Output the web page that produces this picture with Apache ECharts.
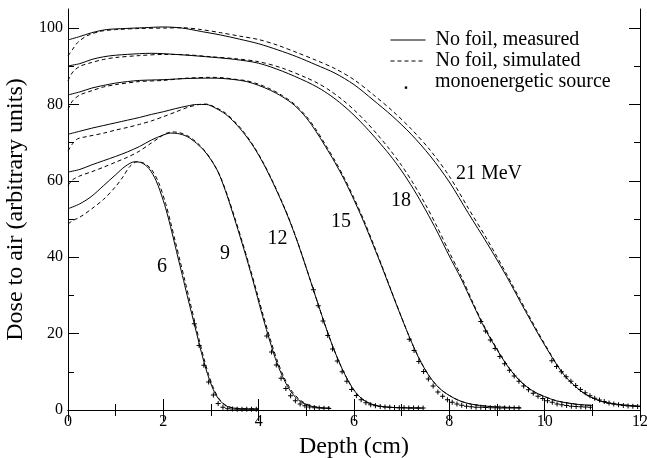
<!DOCTYPE html>
<html>
<head>
<meta charset="utf-8">
<script src="https://cdn.jsdelivr.net/npm/echarts@6/dist/echarts.min.js"></script>
<style>
html, body { margin: 0; padding: 0; background: #ffffff; }
#chart { width: 647px; height: 458px; }
</style>
</head>
<body>
<div id="chart"></div>
<script>
// Depth-dose curves in air, electron beams of 6 to 21 MeV
// Each curve: [depth (cm), dose (arbitrary units)]

const measured6 = [[0,52.7],[0.25,54.0],[0.5,56.0],[0.75,58.8],[1.0,61.6],[1.2,63.8],[1.4,65.0],[1.55,64.7],[1.7,63.2],[1.85,60.0],[2.0,54.8],[2.1,50.5],[2.2,45.5],[2.3,40.3],[2.4,35.2],[2.5,30.0],[2.6,25.0],[2.7,20.0],[2.8,15.0],[2.9,10.5],[3.0,6.8],[3.1,4.0],[3.2,2.3],[3.3,1.2],[3.4,0.7],[3.55,0.4],[3.75,0.3],[4.0,0.3]];
const simulated6 = [[0,48.7],[0.1,49.6],[0.25,50.5],[0.5,52.7],[0.75,55.2],[1.0,58.5],[1.15,61.0],[1.3,63.8],[1.45,65.0],[1.6,64.6],[1.75,63.0],[1.9,59.6],[2.05,54.0],[2.15,49.3],[2.25,44.2],[2.35,39.1],[2.45,34.0],[2.55,28.8],[2.65,23.6],[2.75,18.5],[2.85,13.6],[2.95,9.3],[3.05,5.8],[3.15,3.3],[3.25,1.8],[3.35,1.0],[3.45,0.6],[3.6,0.4],[3.8,0.3],[4.0,0.3]];
const monoX6 = [2.65,2.75,2.85,2.95,3.05,3.15,3.25,3.35,3.45,3.55,3.65,3.75,3.85,3.95];
const monoY6 = [22.6,16.9,11.7,7.3,3.9,1.7,0.7,0.35,0.25,0.2,0.2,0.2,0.2,0.2];

const measured9 = [[0,62.3],[0.25,63.0],[0.5,64.2],[0.75,65.3],[1.0,66.4],[1.25,67.6],[1.5,69.0],[1.75,70.7],[2.0,72.0],[2.15,72.5],[2.3,72.4],[2.5,71.6],[2.7,69.8],[2.85,68.0],[3.0,65.5],[3.15,62.3],[3.3,57.5],[3.45,51.8],[3.6,45.8],[3.75,39.6],[3.9,33.0],[4.05,26.0],[4.2,19.5],[4.35,13.5],[4.5,8.8],[4.65,5.3],[4.8,3.0],[4.95,1.7],[5.1,1.0],[5.3,0.6],[5.5,0.5]];
const simulated9 = [[0,58.8],[0.1,60.3],[0.25,61.3],[0.5,62.4],[0.75,63.6],[1.0,64.9],[1.25,66.2],[1.5,67.8],[1.7,69.5],[1.9,71.2],[2.05,72.4],[2.2,72.8],[2.35,72.6],[2.55,71.5],[2.75,69.5],[2.9,67.4],[3.05,64.6],[3.2,61.0],[3.35,56.0],[3.5,50.3],[3.65,44.3],[3.8,38.0],[3.95,31.4],[4.1,24.6],[4.25,18.3],[4.4,12.6],[4.55,8.1],[4.7,4.9],[4.85,2.8],[5.0,1.6],[5.15,1.0],[5.3,0.6],[5.5,0.5]];
const monoX9 = [4.17,4.27,4.37,4.47,4.57,4.67,4.77,4.87,4.97,5.07,5.17,5.27,5.37,5.47];
const monoY9 = [19.4,15.2,11.8,8.3,5.6,3.7,2.4,1.6,1.1,0.8,0.6,0.5,0.45,0.4];

const measured12 = [[0,72.2],[0.25,73.0],[0.5,73.8],[0.75,74.5],[1.0,75.2],[1.25,75.9],[1.5,76.6],[1.75,77.4],[2.0,78.1],[2.25,78.9],[2.5,79.6],[2.7,80.0],[2.9,80.0],[3.1,79.0],[3.3,77.5],[3.5,75.2],[3.7,72.3],[3.9,68.8],[4.1,64.5],[4.3,59.5],[4.5,54.0],[4.65,49.5],[4.8,44.5],[4.95,39.0],[5.1,33.3],[5.25,27.6],[5.4,22.0],[5.55,16.8],[5.7,12.2],[5.85,8.3],[6.0,5.2],[6.15,3.1],[6.3,1.9],[6.5,1.1],[6.75,0.7],[7.0,0.6],[7.45,0.5]];
const simulated12 = [[0,67.8],[0.1,69.8],[0.2,71.0],[0.4,71.6],[0.75,72.5],[1.0,73.3],[1.25,74.0],[1.5,74.8],[1.75,75.7],[2.0,76.8],[2.25,78.0],[2.5,79.2],[2.75,80.0],[2.9,80.1],[3.1,79.2],[3.3,77.8],[3.5,75.5],[3.7,72.6],[3.9,69.0],[4.1,64.7],[4.3,59.7],[4.5,54.2],[4.65,49.7],[4.8,44.6],[4.95,39.1],[5.1,33.4],[5.25,27.6],[5.4,22.0],[5.55,16.8],[5.7,12.2],[5.85,8.3],[6.0,5.2],[6.15,3.1],[6.3,1.9],[6.5,1.1],[6.75,0.7],[7.0,0.6],[7.45,0.5]];
const monoX12 = [5.15,5.25,5.35,5.45,5.55,5.65,5.75,5.85,5.95,6.05,6.15,6.25,6.35,6.45,6.55,6.65,6.75,6.85,6.95,7.05,7.15,7.25,7.35,7.45];
const monoY12 = [31.5,27.3,23.3,19.5,16.0,12.8,10.0,7.5,5.4,3.8,2.7,1.9,1.4,1.1,0.9,0.8,0.7,0.65,0.6,0.6,0.55,0.55,0.5,0.5];

const measured15 = [[0,82.5],[0.25,83.3],[0.5,84.3],[0.75,85.0],[1.0,85.6],[1.25,86.0],[1.5,86.3],[2.0,86.5],[2.5,86.8],[3.0,86.9],[3.25,86.8],[3.5,86.5],[3.75,86.0],[4.0,85.0],[4.25,83.7],[4.5,82.0],[4.75,79.8],[5.0,76.5],[5.2,73.0],[5.4,69.0],[5.6,64.8],[5.8,60.2],[6.0,55.0],[6.2,49.4],[6.4,43.3],[6.6,37.0],[6.8,30.5],[7.0,24.1],[7.2,18.0],[7.4,12.6],[7.6,8.5],[7.8,5.6],[8.0,3.8],[8.2,2.5],[8.4,1.7],[8.7,1.1],[9.0,0.8],[9.5,0.6]];
const simulated15 = [[0,78.7],[0.1,81.0],[0.25,82.5],[0.5,83.6],[0.75,84.6],[1.0,85.2],[1.5,86.0],[2.0,86.3],[2.5,86.9],[3.0,87.1],[3.25,87.0],[3.5,86.6],[3.75,86.2],[4.0,85.3],[4.25,84.0],[4.5,82.3],[4.75,80.1],[5.0,76.9],[5.2,73.5],[5.4,69.5],[5.6,65.3],[5.8,60.7],[6.0,55.5],[6.2,49.9],[6.4,43.7],[6.6,37.3],[6.8,30.7],[7.0,24.2],[7.2,18.0],[7.4,12.7],[7.6,8.5],[7.8,5.6],[8.0,3.8],[8.2,2.5],[8.4,1.7],[8.7,1.1],[9.0,0.8],[9.5,0.6]];
const monoX15 = [7.16,7.26,7.36,7.46,7.56,7.66,7.76,7.86,7.96,8.06,8.16,8.26,8.36,8.46,8.56,8.66,8.76,8.86,8.96,9.06,9.16,9.26,9.36,9.46];
const monoY15 = [18.5,15.6,12.7,10.1,8.1,6.3,4.7,3.6,2.7,2.0,1.55,1.25,1.0,0.85,0.75,0.7,0.65,0.6,0.6,0.55,0.55,0.5,0.5,0.5];

const measured18 = [[0,90.1],[0.25,90.7],[0.5,91.8],[0.75,92.5],[1.0,92.9],[1.5,93.3],[1.75,93.4],[2.0,93.3],[2.5,92.9],[3.0,92.4],[3.5,91.8],[4.0,90.8],[4.5,88.7],[5.0,86.0],[5.25,84.4],[5.5,82.4],[5.75,80.0],[6.0,77.2],[6.25,74.0],[6.5,70.5],[6.75,66.8],[7.0,62.6],[7.25,57.8],[7.5,52.4],[7.75,46.6],[8.0,40.3],[8.25,34.3],[8.5,27.6],[8.75,21.2],[9.0,15.8],[9.25,11.0],[9.5,7.4],[9.75,5.0],[10.0,3.5],[10.25,2.4],[10.5,1.8],[10.75,1.4],[11.0,1.2]];
const simulated18 = [[0,86.2],[0.1,88.5],[0.25,90.0],[0.5,91.0],[0.75,91.8],[1.0,92.3],[1.5,92.8],[2.0,93.1],[2.5,93.0],[3.0,92.5],[3.5,92.0],[4.0,91.2],[4.5,89.5],[5.0,87.0],[5.25,85.5],[5.5,83.6],[5.75,81.3],[6.0,78.6],[6.25,75.5],[6.5,72.0],[6.75,68.2],[7.0,64.0],[7.25,59.2],[7.5,53.8],[7.75,47.8],[8.0,41.3],[8.25,35.0],[8.5,28.0],[8.75,21.5],[9.0,16.0],[9.25,11.1],[9.5,7.4],[9.75,5.0],[10.0,3.5],[10.25,2.4],[10.5,1.8],[10.75,1.4],[11.0,1.2]];
const monoX18 = [8.66,8.76,8.86,8.96,9.06,9.16,9.26,9.36,9.46,9.56,9.66,9.76,9.86,9.96,10.06,10.16,10.26,10.36,10.46,10.56,10.66,10.76,10.86,10.96];
const monoY18 = [23.2,20.7,18.3,16.1,14.0,12.1,10.4,8.9,7.5,6.3,5.3,4.4,3.6,3.0,2.4,2.0,1.6,1.35,1.15,1.0,0.9,0.85,0.8,0.75];

const measured21 = [[0,96.9],[0.25,97.8],[0.5,98.8],[0.8,99.6],[1.2,99.9],[1.6,100.1],[2.0,100.3],[2.4,100.0],[2.8,99.1],[3.2,98.2],[3.6,97.1],[4.0,95.9],[4.4,94.3],[4.8,92.5],[5.2,90.4],[5.6,88.2],[6.0,85.2],[6.4,81.2],[6.8,77.0],[7.2,72.2],[7.6,66.5],[8.0,59.7],[8.4,51.5],[8.8,43.5],[9.2,35.0],[9.6,25.8],[10.0,17.0],[10.4,9.3],[10.8,4.6],[11.2,2.2],[11.6,1.4],[12.0,1.0]];
const simulated21 = [[0,92.7],[0.1,94.5],[0.2,96.2],[0.4,98.0],[0.7,99.2],[1.0,99.6],[1.5,99.9],[2.0,100.0],[2.4,100.1],[2.8,99.6],[3.2,98.8],[3.6,97.9],[4.0,97.0],[4.4,95.5],[4.8,93.6],[5.2,91.6],[5.6,89.4],[6.0,86.5],[6.4,82.6],[6.8,78.4],[7.2,73.6],[7.6,68.0],[8.0,61.2],[8.4,52.8],[8.8,44.5],[9.2,35.6],[9.6,26.3],[10.0,17.3],[10.4,9.4],[10.8,4.6],[11.2,2.2],[11.6,1.4],[12.0,1.0]];
const monoX21 = [10.15,10.25,10.35,10.45,10.55,10.65,10.75,10.85,10.95,11.05,11.15,11.25,11.35,11.45,11.55,11.65,11.75,11.85,11.95];
const monoY21 = [12.9,11.4,10.0,8.7,7.5,6.4,5.4,4.5,3.7,3.1,2.6,2.2,1.85,1.6,1.35,1.2,1.05,0.95,0.9];

// Axis tick values
const xMajorTicks = [0, 2, 4, 6, 8, 10, 12];
const yMajorTicks = [0, 20, 40, 60, 80, 100];
const yMinorTicks = [10, 30, 50, 70, 90];

// Curve annotations
const curveLabels = ['6', '9', '12', '15', '18', '21 MeV'];

const NAME_MEASURED = 'No foil, measured';
const NAME_SIMULATED = 'No foil, simulated';
const NAME_MONO = 'monoenergetic source';

const FONT = '"Liberation Serif", "Times New Roman", serif';
const INK = '#000000';

const beams = [
  { measured: measured6,  simulated: simulated6,  monoX: monoX6,  monoY: monoY6 },
  { measured: measured9,  simulated: simulated9,  monoX: monoX9,  monoY: monoY9 },
  { measured: measured12, simulated: simulated12, monoX: monoX12, monoY: monoY12 },
  { measured: measured15, simulated: simulated15, monoX: monoX15, monoY: monoY15 },
  { measured: measured18, simulated: simulated18, monoX: monoX18, monoY: monoY18 },
  { measured: measured21, simulated: simulated21, monoX: monoX21, monoY: monoY21 }
];

// small "+" marker
const crossSymbol = 'path://M0,2L5,2L5,3L0,3Z M2,0L3,0L3,5L2,5Z';
// small dot used in the legend, padded to the legend icon box (sits low, near the text baseline)
const dotIcon = 'path://M0,0M35,14M14.8,11.4L17.2,11.4L17.2,13.8L14.8,13.8Z';

const series = [];
beams.forEach(function (b) {
  series.push({
    name: NAME_MEASURED, type: 'line', data: b.measured,
    symbol: 'none', smooth: 0.3, z: 3,
    lineStyle: { color: INK, width: 1 }, itemStyle: { color: INK }
  });
  series.push({
    name: NAME_SIMULATED, type: 'line', data: b.simulated,
    symbol: 'none', smooth: 0.3, z: 3,
    lineStyle: { color: INK, width: 1, type: [4, 3] }, itemStyle: { color: INK }
  });
  series.push({
    name: NAME_MONO, type: 'scatter',
    data: b.monoX.map(function (x, i) { return [x, b.monoY[i]]; }),
    symbol: crossSymbol, symbolSize: 5, z: 4,
    itemStyle: { color: INK, borderWidth: 0, opacity: 1 }
  });
});

function legendAt(name, top, extra) {
  return Object.assign({
    data: [name], left: 390, top: top, orient: 'horizontal',
    itemWidth: 35, itemHeight: 14, padding: 0, selectedMode: false,
    textStyle: { fontFamily: FONT, fontSize: 20, color: INK, padding: [0, 0, 0, 5] },
    itemStyle: { opacity: 0 },
    lineStyle: { width: 1 }
  }, extra || {});
}

function labelText(text, x, y) {
  return {
    type: 'text', x: x, y: y, silent: true,
    style: { text: text, fill: INK, font: '20px ' + FONT, textAlign: 'center', textVerticalAlign: 'middle' }
  };
}

const tickLine = { color: INK, width: 1 };
const tickFont = { fontFamily: FONT, fontSize: 16, color: INK };

const option = {
  animation: false,
  backgroundColor: '#ffffff',
  textStyle: { fontFamily: FONT, color: INK },
  grid: { left: 68, right: 7, top: 9, bottom: 48, containLabel: false, outerBoundsMode: 'none' },
  xAxis: [
    {
      type: 'value', min: 0, max: 12, interval: 2, position: 'bottom',
      name: 'Depth (cm)', nameLocation: 'middle', nameGap: 19,
      nameTextStyle: { fontFamily: FONT, fontSize: 24, color: INK },
      axisLine: { show: true, lineStyle: tickLine },
      axisTick: { show: true, inside: true, length: 11, lineStyle: tickLine },
      minorTick: { show: true, splitNumber: 2, length: 6, lineStyle: tickLine },
      axisLabel: Object.assign({ show: true, margin: 4, customValues: xMajorTicks }, tickFont),
      splitLine: { show: false }
    },
    {
      type: 'value', min: 0, max: 12, interval: 2, position: 'top',
      axisLine: { show: true, lineStyle: tickLine },
      axisTick: { show: true, inside: true, length: 11, lineStyle: tickLine },
      minorTick: { show: true, splitNumber: 2, length: 6, lineStyle: tickLine },
      axisLabel: { show: false },
      splitLine: { show: false }
    }
  ],
  yAxis: [
    {
      type: 'value', min: 0, max: 105, position: 'left',
      name: 'Dose to air (arbitrary units)', nameLocation: 'middle', nameGap: 36,
      nameTextStyle: { fontFamily: FONT, fontSize: 24, color: INK },
      axisLine: { show: true, lineStyle: tickLine },
      axisTick: { show: true, inside: true, length: 11, lineStyle: tickLine, customValues: yMajorTicks },
      axisLabel: Object.assign({ show: true, margin: 5, customValues: yMajorTicks }, tickFont),
      splitLine: { show: false }
    },
    {
      type: 'value', min: 0, max: 105, position: 'left',
      axisLine: { show: false },
      axisTick: { show: true, inside: true, length: 6, lineStyle: tickLine, customValues: yMinorTicks },
      axisLabel: { show: false },
      splitLine: { show: false }
    },
    {
      type: 'value', min: 0, max: 105, position: 'right',
      axisLine: { show: true, lineStyle: tickLine },
      axisTick: { show: true, inside: true, length: 11, lineStyle: tickLine, customValues: yMajorTicks },
      axisLabel: { show: false },
      splitLine: { show: false }
    },
    {
      type: 'value', min: 0, max: 105, position: 'right',
      axisLine: { show: false },
      axisTick: { show: true, inside: true, length: 6, lineStyle: tickLine, customValues: yMinorTicks },
      axisLabel: { show: false },
      splitLine: { show: false }
    }
  ],
  legend: [
    legendAt(NAME_MEASURED, 30),
    legendAt(NAME_SIMULATED, 51),
    legendAt(NAME_MONO, 72, {
      data: [{ name: NAME_MONO, icon: dotIcon, itemStyle: { color: INK, opacity: 1 } }],
      itemStyle: { color: INK, opacity: 1 }
    })
  ],
  graphic: [
    labelText(curveLabels[0], 162, 266.5),
    labelText(curveLabels[1], 225, 253.5),
    labelText(curveLabels[2], 277.5, 238.5),
    labelText(curveLabels[3], 341, 221.5),
    labelText(curveLabels[4], 401, 200.5),
    labelText(curveLabels[5], 489, 173.5)
  ],
  series: series
};

const chart = echarts.init(document.getElementById('chart'), null, { renderer: 'canvas' });
chart.setOption(option);
</script>
</body>
</html>
